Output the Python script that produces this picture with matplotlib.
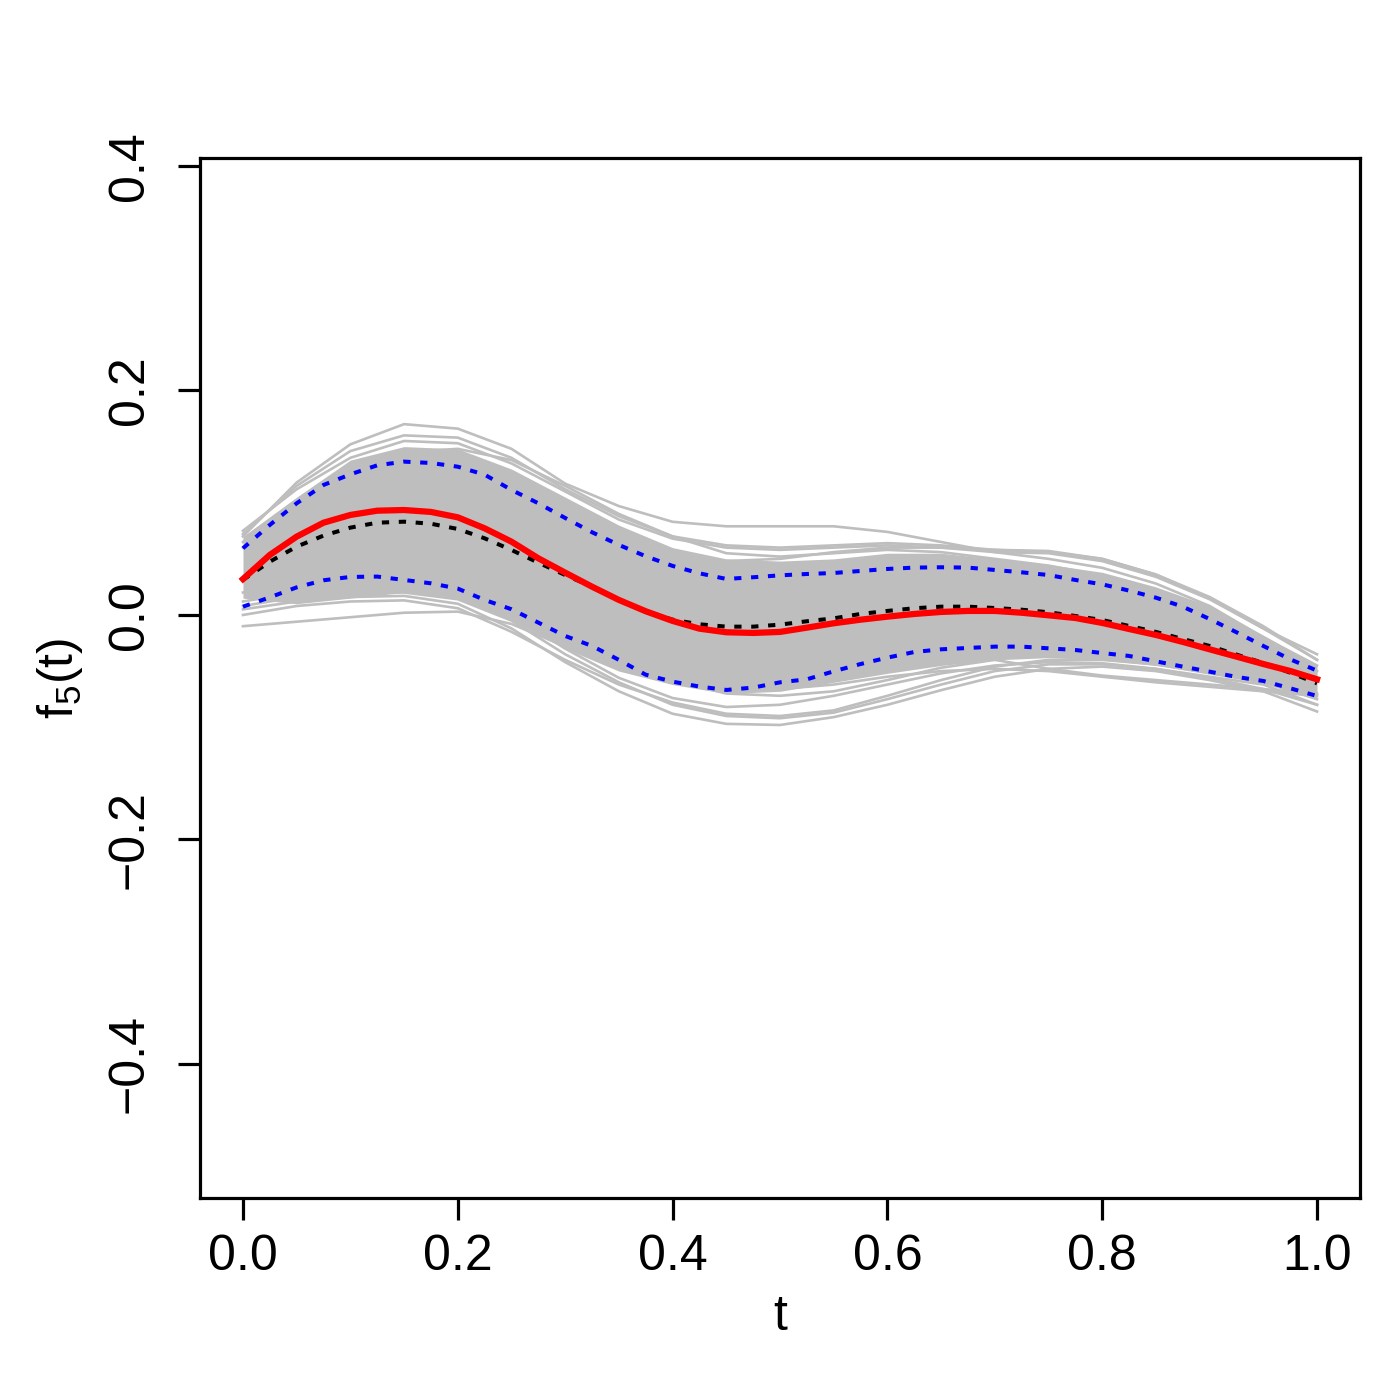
import matplotlib
matplotlib.use('Agg')
import matplotlib.pyplot as plt

plt.rcParams['font.family'] = ['Liberation Sans', 'DejaVu Sans']
plt.rcParams['mathtext.default'] = 'regular'

# t grid for the gray sample curves
t = [0.00, 0.05, 0.10, 0.15, 0.20, 0.25, 0.30, 0.35, 0.40, 0.45, 0.50,
     0.55, 0.60, 0.65, 0.70, 0.75, 0.80, 0.85, 0.90, 0.95, 1.00]

# dense core of the gray curves (lower / upper edge)
core_lo = [0.015, 0.010, 0.015, 0.020, 0.015, -0.005, -0.030, -0.050, -0.062, -0.070, -0.068,
           -0.060, -0.052, -0.045, -0.040, -0.038, -0.040, -0.045, -0.052, -0.060, -0.075]
core_hi = [0.070, 0.105, 0.138, 0.150, 0.148, 0.130, 0.105, 0.080, 0.060, 0.050, 0.048,
           0.050, 0.055, 0.055, 0.050, 0.045, 0.038, 0.025, 0.008, -0.018, -0.045]

# individual gray curves near the edges
g1 = [0.070, 0.118, 0.152, 0.170, 0.166, 0.148, 0.117, 0.097, 0.083, 0.079, 0.079,
      0.079, 0.074, 0.065, 0.056, 0.050, 0.042, 0.028, 0.008, -0.020, -0.045]
g2 = [0.075, 0.112, 0.140, 0.155, 0.153, 0.135, 0.110, 0.085, 0.068, 0.060, 0.058,
      0.060, 0.062, 0.060, 0.056, 0.055, 0.048, 0.034, 0.014, -0.012, -0.035]
g3 = [-0.010, -0.006, -0.002, 0.002, 0.003, -0.008, -0.028, -0.045, -0.058, -0.065, -0.066,
      -0.062, -0.055, -0.050, -0.048, -0.050, -0.055, -0.060, -0.064, -0.068, -0.072]
g4 = [0.005, 0.012, 0.016, 0.017, 0.010, -0.012, -0.042, -0.068, -0.088, -0.097, -0.098,
      -0.091, -0.080, -0.067, -0.055, -0.048, -0.046, -0.050, -0.058, -0.068, -0.086]
g5 = [0.000, 0.008, 0.012, 0.013, 0.006, -0.015, -0.040, -0.062, -0.078, -0.088, -0.090,
      -0.085, -0.072, -0.058, -0.046, -0.040, -0.040, -0.044, -0.052, -0.060, -0.075]
g6 = [0.012, 0.020, 0.025, 0.026, 0.020, 0.000, -0.030, -0.056, -0.074, -0.082, -0.080,
      -0.072, -0.062, -0.052, -0.045, -0.042, -0.043, -0.048, -0.055, -0.062, -0.080]
g7 = [0.065, 0.100, 0.130, 0.145, 0.148, 0.138, 0.115, 0.090, 0.070, 0.055, 0.052,
      0.055, 0.058, 0.056, 0.050, 0.044, 0.035, 0.022, 0.005, -0.020, -0.050]
g8 = [0.020, 0.030, 0.038, 0.040, 0.035, 0.015, -0.015, -0.040, -0.058, -0.070, -0.072,
      -0.068, -0.058, -0.047, -0.040, -0.048, -0.054, -0.058, -0.062, -0.066, -0.070]
g9 = [0.060, 0.090, 0.115, 0.128, 0.125, 0.110, 0.090, 0.070, 0.055, 0.048, 0.050,
      0.056, 0.060, 0.060, 0.058, 0.057, 0.050, 0.036, 0.016, -0.010, -0.040]
g10 = [0.008, 0.016, 0.020, 0.020, 0.014, -0.005, -0.035, -0.060, -0.080, -0.090, -0.092,
       -0.087, -0.075, -0.062, -0.050, -0.044, -0.044, -0.048, -0.056, -0.066, -0.080]
g11 = [0.072, 0.115, 0.146, 0.160, 0.158, 0.140, 0.112, 0.088, 0.070, 0.062, 0.060,
       0.062, 0.064, 0.062, 0.058, 0.056, 0.050, 0.036, 0.015, -0.012, -0.040]
gray_curves = [g1, g2, g3, g4, g5, g6, g7, g8, g9, g10, g11]

# finer t grid for the summary curves
tf = [0.000, 0.025, 0.050, 0.075, 0.100, 0.125, 0.150, 0.175, 0.200, 0.225, 0.250,
      0.275, 0.300, 0.325, 0.350, 0.375, 0.400, 0.425, 0.450, 0.475, 0.500,
      0.525, 0.550, 0.575, 0.600, 0.625, 0.650, 0.675, 0.700, 0.725, 0.750,
      0.775, 0.800, 0.825, 0.850, 0.875, 0.900, 0.925, 0.950, 0.975, 1.000]

# true function (red)
f_true = [0.0320, 0.0535, 0.0698, 0.0822, 0.0891, 0.0929, 0.0935, 0.0918, 0.0870, 0.0772, 0.0653,
          0.0505, 0.0377, 0.0252, 0.0134, 0.0033, -0.0053, -0.0122, -0.0154, -0.0160, -0.0151,
          -0.0113, -0.0074, -0.0042, -0.0015, 0.0009, 0.0027, 0.0036, 0.0036, 0.0020, -0.0003,
          -0.0027, -0.0071, -0.0125, -0.0178, -0.0240, -0.0306, -0.0371, -0.0437, -0.0499, -0.0573]
# estimated mean (black dotted)
f_mean = [0.0312, 0.0475, 0.0609, 0.0707, 0.0778, 0.0822, 0.0831, 0.0813, 0.0766, 0.0683, 0.0579,
          0.0466, 0.0356, 0.0252, 0.0134, 0.0033, -0.0042, -0.0083, -0.0104, -0.0104, -0.0086,
          -0.0056, -0.0030, 0.0009, 0.0036, 0.0060, 0.0074, 0.0074, 0.0062, 0.0047, 0.0024,
          -0.0009, -0.0045, -0.0098, -0.0151, -0.0214, -0.0276, -0.0353, -0.0428, -0.0514, -0.0609]
# pointwise bands (blue dashed)
f_upper = [0.0594, 0.0802, 0.0995, 0.1158, 0.1253, 0.1333, 0.1366, 0.1354, 0.1321, 0.1250, 0.1114,
           0.0995, 0.0864, 0.0737, 0.0624, 0.0523, 0.0437, 0.0371, 0.0321, 0.0336, 0.0353,
           0.0365, 0.0374, 0.0392, 0.0410, 0.0422, 0.0425, 0.0422, 0.0401, 0.0380, 0.0356,
           0.0312, 0.0273, 0.0217, 0.0154, 0.0074, -0.0036, -0.0154, -0.0276, -0.0395, -0.0496]
f_lower = [0.0074, 0.0157, 0.0246, 0.0309, 0.0339, 0.0342, 0.0312, 0.0282, 0.0235, 0.0134, 0.0051,
           -0.0068, -0.0187, -0.0276, -0.0400, -0.0532, -0.0594, -0.0638, -0.0668, -0.0647, -0.0600,
           -0.0573, -0.0502, -0.0437, -0.0380, -0.0330, -0.0306, -0.0294, -0.0282, -0.0282, -0.0297,
           -0.0312, -0.0339, -0.0365, -0.0413, -0.0460, -0.0505, -0.0552, -0.0588, -0.0653, -0.0722]

fig = plt.figure(figsize=(14, 14), dpi=100)
ax = fig.add_axes([200/1400, 1 - 1198/1400, 1160/1400, 1040/1400])

grey = '#BEBEBE'
ax.fill_between(t, core_lo, core_hi, color=grey, lw=0)
for g in gray_curves:
    ax.plot(t, g, color=grey, lw=1.9, solid_joinstyle='round')

dash = (1.8, 2.4)
ax.plot(tf, f_upper, color='#0000FF', lw=2.9, dashes=dash)
ax.plot(tf, f_lower, color='#0000FF', lw=2.9, dashes=dash)
ax.plot(tf, f_mean, color='black', lw=2.9, dashes=dash)
ax.plot(tf, f_true, color='#FF0000', lw=4.5, solid_joinstyle='round')

ax.set_xlim(-0.04, 1.04)
ax.set_ylim(-0.5194, 0.4071)
ax.set_xticks([0.0, 0.2, 0.4, 0.6, 0.8, 1.0])
ax.set_yticks([-0.4, -0.2, 0.0, 0.2, 0.4])
ax.set_xticklabels(['0.0', '0.2', '0.4', '0.6', '0.8', '1.0'])
ax.set_yticklabels(['\u22120.4', '\u22120.2', '0.0', '0.2', '0.4'], rotation=90, va='center')

for s in ax.spines.values():
    s.set_linewidth(2.3)
ax.tick_params(labelsize=36, length=16, width=2.3, pad=10)
ax.tick_params(axis='y', pad=18)

ax.set_xlabel('t', fontsize=36, labelpad=10)
ax.set_ylabel('f$_5$(t)', fontsize=36, labelpad=16)

fig.savefig('out.png', dpi=100)
